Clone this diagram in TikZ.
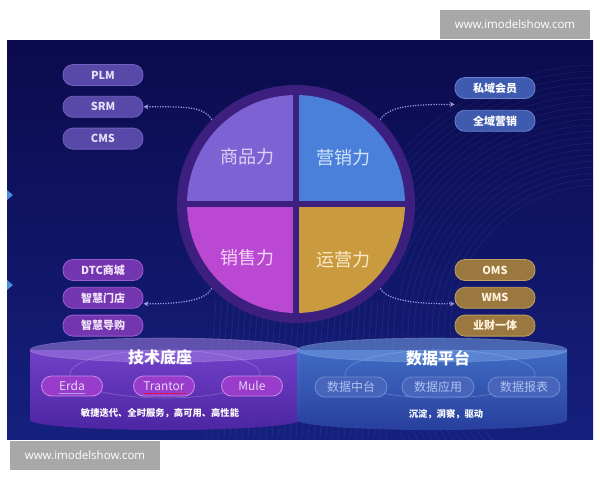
\documentclass[tikz,border=0pt]{standalone}
\usepackage{fontspec}
\setmainfont{Noto Sans CJK SC}
\newfontfamily\wmfont{Open Sans}
\usetikzlibrary{arrows}
\usetikzlibrary{positioning, calc}
\usepackage{xcolor}

\definecolor{panelA}{HTML}{0B0A4C}
\definecolor{panelB}{HTML}{15207E}
\definecolor{ringc}{HTML}{3C1F7E}
\definecolor{qpurple}{HTML}{7C62D2}
\definecolor{qblue}{HTML}{4B80DA}
\definecolor{qmagenta}{HTML}{BB48D2}
\definecolor{qgold}{HTML}{C99B3E}
\definecolor{dotc}{HTML}{A49CE6}
\definecolor{wmgray}{HTML}{A8A8A8}
\definecolor{cylLa}{HTML}{7A44D0}
\definecolor{cylLb}{HTML}{5226A6}
\definecolor{cylRa}{HTML}{4474CC}
\definecolor{cylRb}{HTML}{2A42A0}
\definecolor{arcc}{HTML}{6C8CE8}
\definecolor{streakc}{HTML}{8E9CF0}
\definecolor{edgec}{HTML}{4A8CE0}
\definecolor{pAfill}{HTML}{5848A8}
\definecolor{pAdraw}{HTML}{7062C2}
\definecolor{pAtext}{HTML}{E4E0FA}
\definecolor{pBfill}{HTML}{3E5BB0}
\definecolor{pBdraw}{HTML}{6684D4}
\definecolor{pCfill}{HTML}{7335B0}
\definecolor{pCdraw}{HTML}{9A5CCF}
\definecolor{pCtext}{HTML}{F2E4FA}
\definecolor{pDfill}{HTML}{9A7840}
\definecolor{pDdraw}{HTML}{BFA060}
\definecolor{pDtext}{HTML}{FFF3DC}
\definecolor{cLfill}{HTML}{9A3CCB}
\definecolor{cLdraw}{HTML}{C98AE8}
\definecolor{cLtext}{HTML}{E6D4F8}
\definecolor{cRfill}{HTML}{4865BC}
\definecolor{cRdraw}{HTML}{6E8CD6}
\definecolor{cRtext}{HTML}{AFC2F0}
\definecolor{tA}{HTML}{DCD4F6}
\definecolor{tB}{HTML}{D4E4FA}
\definecolor{tC}{HTML}{F4D6F6}
\definecolor{tD}{HTML}{FBEACB}
\definecolor{topL}{HTML}{A07EE0}
\definecolor{rimL}{HTML}{C8B0F0}
\definecolor{topR}{HTML}{6E96DC}
\definecolor{rimR}{HTML}{A8C4F0}
\definecolor{ulc}{HTML}{B8A0F0}

\begin{document}
\begin{tikzpicture}[x=1pt, y=-1pt, >=stealth,
    pill/.style={rounded corners=10pt, minimum width=80pt, minimum height=21pt, inner sep=0pt,
      line width=0.8pt, font=\fontsize{11}{13}\selectfont\bfseries},
    pillA/.style={pill, fill=pAfill, draw=pAdraw, text=pAtext},
    pillB/.style={pill, fill=pBfill, draw=pBdraw, text=white},
    pillC/.style={pill, fill=pCfill, draw=pCdraw, text=pCtext},
    pillD/.style={pill, fill=pDfill, draw=pDdraw, text=pDtext},
    cpill/.style={rounded corners=10pt, minimum height=20pt, inner sep=0pt, line width=0.8pt,
      font=\fontsize{12}{14}\selectfont},
    cpillL/.style={cpill, minimum width=61pt, fill=cLfill, draw=cLdraw, text=cLtext},
    cpillR/.style={cpill, minimum width=72pt, fill=cRfill, draw=cRdraw, text=cRtext},
    qlabel/.style={font=\fontsize{18}{20}\selectfont},
    title/.style={text=white, font=\fontsize{16}{18}\selectfont\bfseries},
    caption/.style={text=white, font=\fontsize{9.3}{11}\selectfont\bfseries},
    dotarrow/.style={->, dotc, line width=1.2pt, dash pattern=on 1.2pt off 1.4pt},
    wmbox/.style={fill=wmgray, text=white, minimum width=150pt, minimum height=29pt, inner sep=0pt,
      font=\wmfont\fontsize{11.5}{13}\selectfont},
  ]
  \useasboundingbox (0,0) rectangle (600,480);
  \fill[white] (0,0) rectangle (600,480);

  % background panel
  \shade[top color=panelA, bottom color=panelB] (7,40) rectangle (593,439);
  \begin{scope}
    \clip (400,40) rectangle (593,439);
    \foreach \r in {150,156,...,270}
      \draw[arcc, opacity=0.13, line width=0.6pt] (600,335) circle (\r pt);
  \end{scope}
  \foreach \x in {206,212,...,386}
    \draw[streakc, opacity=0.10, line width=0.8pt] (\x+10,300) -- (\x,439);
  \fill[edgec] (7,190) -- (13,195) -- (7,200) -- cycle;
  \fill[edgec] (7,280) -- (13,285) -- (7,290) -- cycle;

  % the four quadrants
  \node[circle, fill=ringc, minimum size=238pt, inner sep=0pt] (ring) at (296,204) {};
  \begin{scope}
    \clip (296,204) circle (109pt);
    \fill[qpurple] (180,90) rectangle (293,201);
    \fill[qblue] (299,90) rectangle (420,201);
    \fill[qmagenta] (180,207) rectangle (293,320);
    \fill[qgold] (299,207) rectangle (420,320);
  \end{scope}
  \node[qlabel, text=tA] (spl) at (247,157) {商品力};
  \node[qlabel, text=tB] (yxl) at (343,158) {营销力};
  \node[qlabel, text=tC] (xsl) at (247,258) {销售力};
  \node[qlabel, text=tD] (yyl) at (343,260) {运营力};

  % side pills
  \node[pillA] (plm) at (103,75) {PLM};
  \node[pillA, below=10pt of plm] (srm) {SRM};
  \node[pillA, below=10pt of srm] (cms) {CMS};

  \node[pillB] (syhy) at (495,88) {私域会员};
  \node[pillB, below=11pt of syhy] (qyyx) {全域营销};

  \node[pillC] (dtc) at (103,270) {DTC商城};
  \node[pillC, below=6pt of dtc] (zhmd) {智慧门店};
  \node[pillC, below=6pt of zhmd] (zhdg) {智慧导购};

  \node[pillD] (oms) at (495,270) {OMS};
  \node[pillD, below=6pt of oms] (wms) {WMS};
  \node[pillD, below=6pt of wms] (ycyt) {业财一体};

  \coordinate (rt) at ($(syhy.south west)!0.5!(qyyx.north west)$);
  \draw[dotarrow] (ring.135) .. controls +(-8,-14) and +(40,0) .. (srm.east);
  \draw[dotarrow] (ring.45) .. controls +(8,-14) and +(-40,0) .. (rt);
  \draw[dotarrow] (ring.225) .. controls +(-6,12) and +(40,0) .. ([yshift=-6pt]zhmd.east);
  \draw[dotarrow] (ring.315) .. controls +(6,12) and +(-40,0) .. ([yshift=-6pt]wms.west);

  % platforms
  \shade[top color=cylLa, bottom color=cylLb, opacity=0.92]
    (30,350) rectangle (300,420) (165,420) ellipse (135pt and 10pt);
  \fill[topL, opacity=0.55] (165,350) ellipse (135pt and 12pt);
  \draw[rimL, opacity=0.35, line width=0.6pt] (165,350) ellipse (135pt and 12pt);
  \draw[rimL, opacity=0.35, line width=0.7pt] (165,374) ellipse (95pt and 24pt);

  \shade[top color=cylRa, bottom color=cylRb, opacity=0.92]
    (297,350) rectangle (567,420) (432,420) ellipse (135pt and 10pt);
  \fill[topR, opacity=0.6] (432,350) ellipse (135pt and 12pt);
  \draw[rimR, opacity=0.35, line width=0.6pt] (432,350) ellipse (135pt and 12pt);
  \draw[rimR, opacity=0.35, line width=0.7pt] (440,374) ellipse (95pt and 24pt);

  \node[title] (jsdz) at (160,357) {技术底座};
  \node[cpillL] (erda) at (72,386) {Erda};
  \node[cpillL] (trantor) at (164,386) {Trantor};
  \node[cpillL] (mule) at (252,386) {Mule};
  \draw[ulc, line width=0.6pt] ([xshift=-13pt,yshift=-7pt]erda.center) -- ([xshift=13pt,yshift=-7pt]erda.center);
  \draw[red, densely dotted, line width=0.8pt] ([xshift=-20pt,yshift=-7pt]trantor.center) -- ([xshift=20pt,yshift=-7pt]trantor.center);
  \node[caption] (jscap) at (160,413) {敏捷迭代、全时服务，高可用、高性能};

  \node[title] (sjpt) at (438,358) {数据平台};
  \node[cpillR] (sjzt) at (351,387) {数据中台};
  \node[cpillR] (sjyy) at (438,387) {数据应用};
  \node[cpillR] (sjbb) at (524,387) {数据报表};
  \node[caption] (sjcap) at (446,414) {沉淀，洞察，驱动};

  % watermarks
  \node[wmbox] (wmtop) at (515,24.5) {www.imodelshow.com};
  \node[wmbox] (wmbot) at (85,455) {www.imodelshow.com};
\end{tikzpicture}
\end{document}
